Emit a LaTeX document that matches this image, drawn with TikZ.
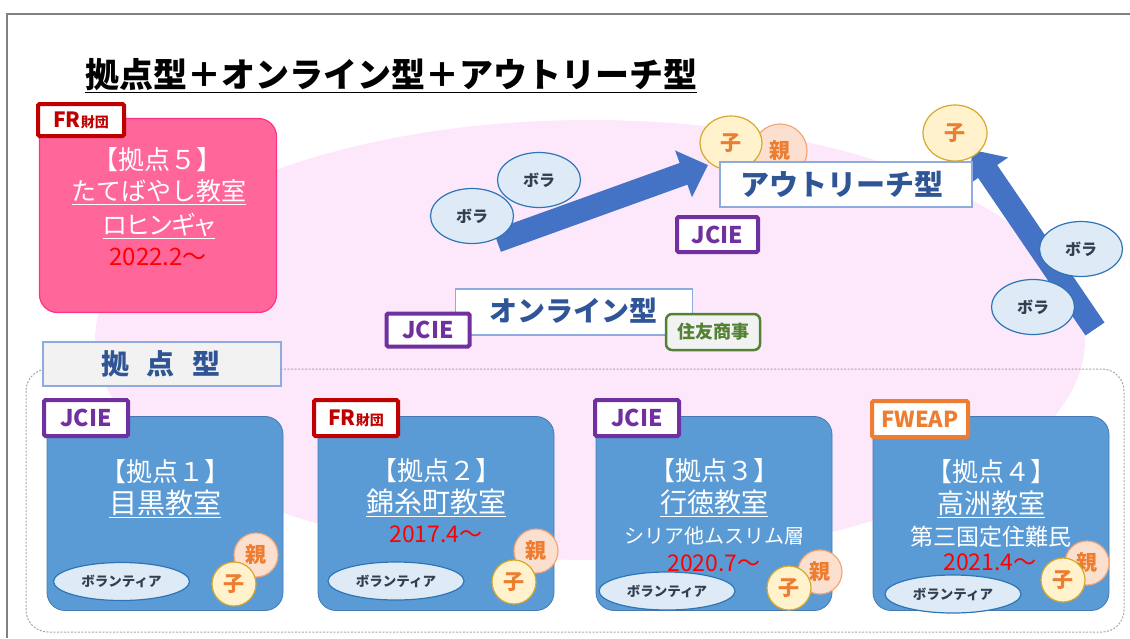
\documentclass[tikz,border=0pt]{standalone}
\usepackage{fontspec}
\setmainfont{Noto Sans CJK JP}
\usetikzlibrary{arrows.meta,shapes.geometric}
\definecolor{framegray}{HTML}{808080}
\definecolor{pinkbg}{HTML}{FCE8FA}
\definecolor{dashgray}{HTML}{A6A6A6}
\definecolor{boxblue}{HTML}{5B9BD5}
\definecolor{boxedge}{HTML}{4679B2}
\definecolor{pinkfill}{HTML}{FF6699}
\definecolor{pinkedge}{HTML}{FF3385}
\definecolor{purp}{HTML}{7030A0}
\definecolor{darkred}{HTML}{C00000}
\definecolor{orng}{HTML}{ED7D31}
\definecolor{grn}{HTML}{548235}
\definecolor{lgray}{HTML}{F2F2F2}
\definecolor{lblue}{HTML}{8FAADC}
\definecolor{navy}{HTML}{2F5597}
\definecolor{volfill}{HTML}{DEEBF7}
\definecolor{voledge}{HTML}{2E75B6}
\definecolor{voltext}{HTML}{333F50}
\definecolor{kofill}{HTML}{FFF2CC}
\definecolor{koedge}{HTML}{D6A82C}
\definecolor{oyafill}{HTML}{FBE0D0}
\definecolor{oyaedge}{HTML}{F4A678}
\definecolor{arrowblue}{HTML}{4472C4}
\definecolor{redtext}{HTML}{FF0000}
\newcommand{\fsz}[1]{\fontsize{#1}{#1}\selectfont}
\begin{document}
\begin{tikzpicture}[x=1pt,y=-1pt,
  tagbox/.style={draw, line width=4pt, fill=white, rounded corners=1.5pt, inner sep=0pt, font=\bfseries\fsz{23}},
  blubox/.style={draw=boxedge, fill=boxblue, rounded corners=18pt, line width=0.8pt, inner sep=0pt, minimum width=236pt, minimum height=194pt},
  titlebox/.style={draw=lblue, line width=1.2pt, fill=white, inner sep=0pt},
  wtext/.style={text=white, inner sep=0pt},
  rtext/.style={text=redtext, inner sep=0pt, font=\fsz{23}},
  vol/.style={ellipse, draw=voledge, fill=volfill, line width=1.2pt, text=voltext, font=\bfseries\fsz{13.5}, minimum width=136pt, minimum height=38pt, inner sep=0pt},
  bora/.style={ellipse, draw=voledge, fill=volfill, line width=1.2pt, text=voltext, font=\bfseries\fsz{16}, minimum width=83pt, minimum height=55pt, inner sep=0pt},
  ko/.style={circle, draw=koedge, fill=kofill, line width=1.2pt, text=orng, font=\bfseries\fsz{21}, minimum size=44pt, inner sep=0pt},
  oya/.style={circle, draw=oyaedge, fill=oyafill, line width=1.2pt, text=orng, font=\bfseries\fsz{21}, minimum size=44pt, inner sep=0pt},
  blockarrow/.style={line width=23pt, draw=arrowblue, -{Triangle[length=26pt,width=48pt]}}
]
\useasboundingbox (0,0) rectangle (1130,638);
% frame
\draw[framegray, line width=1.5pt] (7,638) -- (7,14) -- (1130,14);
% pink background ellipse
\fill[pinkbg] (590,340) ellipse [x radius=495, y radius=220];
% dashed group
\draw[dashgray, line width=1pt, dash pattern=on 2pt off 1.5pt, rounded corners=22pt] (26,369) rectangle (1124,632);

% arrows
\coordinate (a1s) at (497,241);
\coordinate (a1e) at (708,165);
\coordinate (a2s) at (1095,329);
\coordinate (a2e) at (973,150);
\draw[blockarrow] (a1s) -- (a1e);
\draw[blockarrow] (a2s) -- (a2e);

% outreach
\node[oya, minimum size=54pt] (oy0) at (780,151) {親};
\node[ko, ellipse, minimum width=62pt, minimum height=54pt] (ko0) at (731,143) {子};
\node[ko, ellipse, minimum width=64pt, minimum height=56pt] (ko9) at (955,133) {子};
\node[titlebox, minimum width=252pt, minimum height=45pt] (out) at (846,184.5) {};
\node[text=navy, font=\bfseries\fsz{29}, inner sep=0pt] (outt) at (842,184) {アウトリーチ型};
\node[tagbox, draw=purp, text=purp, minimum width=81pt, minimum height=35pt] (tjo) at (717.5,234.5) {JCIE};

% bora
\node[bora] (bo1) at (539,180) {ボラ};
\node[bora] (bo2) at (472,216) {ボラ};
\node[bora] (bo3) at (1081,249) {ボラ};
\node[bora] (bo4) at (1033,307) {ボラ};

% online
\node[titlebox, minimum width=237pt, minimum height=46pt] (onl) at (574,312) {};
\node[text=navy, font=\bfseries\fsz{28}, inner sep=0pt] (onlt) at (573,311) {オンライン型};
\node[tagbox, draw=purp, text=purp, minimum width=83pt, minimum height=33pt] (tjn) at (428,330) {JCIE};
\node[draw=grn, line width=2.5pt, fill=lgray, rounded corners=6pt, text=grn, font=\bfseries\fsz{18}, inner sep=0pt, minimum width=94pt, minimum height=36pt] (sumi) at (713,332) {住友商事};

% box 5
\node[draw=pinkedge, fill=pinkfill, rounded corners=18pt, line width=1.2pt, inner sep=0pt, minimum width=237pt, minimum height=194pt] (b5) at (158,215.5) {};
\node[tagbox, draw=darkred, text=darkred, minimum width=86pt, minimum height=32pt] (t5) at (81,120) {\fsz{21}FR\fsz{14}財団};
\node[wtext, font=\fsz{26}] (b5a) at (157,160) {【拠点５】};
\node[wtext, font=\fsz{25}] (b5b) at (159,192) {\underline{たてばやし教室}};
\node[wtext, font=\fsz{25}\addfontfeatures{RawFeature=+palt}] (b5c) at (159,226) {\underline{ロヒンギャ}};
\node[rtext, font=\fsz{24}] (b5d) at (158,257) {2022.2～};

% label
\node[titlebox, draw=lblue, fill=lgray, minimum width=238pt, minimum height=44pt] (lab) at (162,364) {};
\node[text=navy, font=\bfseries\fsz{28}, inner sep=0pt] (labt) at (161,364) {拠\hspace{18pt}点\hspace{18pt}型};

% blue boxes
\node[blubox] (b1) at (165,513.5) {};
\node[blubox] (b2) at (436,513.5) {};
\node[blubox] (b3) at (714,513.5) {};
\node[blubox] (b4) at (991,513.5) {};

\node[tagbox, draw=purp, text=purp, minimum width=84pt, minimum height=36pt] (t1) at (86,418) {JCIE};
\node[tagbox, draw=darkred, text=darkred, minimum width=84pt, minimum height=36pt] (t2) at (356,418) {\fsz{21}FR\fsz{14}財団};
\node[tagbox, draw=purp, text=purp, minimum width=84pt, minimum height=36pt] (t3) at (637,418) {JCIE};
\node[tagbox, draw=orng, text=orng, minimum width=96pt, minimum height=36pt, font=\bfseries\fsz{22}] (t4) at (920,419) {FWEAP};

% box texts
\node[wtext, font=\fsz{26}] (b1a) at (165,472) {【拠点１】};
\node[wtext, font=\fsz{28}] (b1b) at (165,504) {\underline{目黒教室}};

\node[wtext, font=\fsz{26}] (b2a) at (436,471) {【拠点２】};
\node[wtext, font=\fsz{28}] (b2b) at (436,503) {\underline{錦糸町教室}};
\node[rtext] (b2c) at (436,534) {2017.4～};

\node[wtext, font=\fsz{26}] (b3a) at (714,471) {【拠点３】};
\node[wtext, font=\fsz{27}] (b3b) at (714,503) {\underline{行徳教室}};
\node[wtext, font=\fsz{20}] (b3c) at (714,536) {シリア他ムスリム層};
\node[rtext] (b3d) at (714,563) {2020.7～};

\node[wtext, font=\fsz{26}] (b4a) at (991,472) {【拠点４】};
\node[wtext, font=\fsz{27}] (b4b) at (991,504) {\underline{高洲教室}};
\node[wtext, font=\fsz{23}] (b4c) at (991,537) {第三国定住難民};
\node[rtext] (b4d) at (990,562) {2021.4～};

% volunteers
\node[vol] (v1) at (121.5,581.5) {ボランティア};
\node[vol] (v2) at (396,581) {ボランティア};
\node[vol] (v3) at (667,591) {ボランティア};
\node[vol] (v4) at (953,594) {ボランティア};

% parents and children
\node[oya] (o1) at (256,555) {親};
\node[ko] (k1) at (234,584) {子};
\node[oya] (o2) at (536,551) {親};
\node[ko] (k2) at (514,582) {子};
\node[oya] (o3) at (820,572) {親};
\node[ko] (k3) at (789,588) {子};
\node[oya] (o4) at (1087,563) {親};
\node[ko] (k4) at (1063,580) {子};

% title
\node[font=\bfseries\fsz{34}, inner sep=0pt] (title) at (391,76) {\underline{拠点型＋オンライン型＋アウトリーチ型}};
\end{tikzpicture}
\end{document}
